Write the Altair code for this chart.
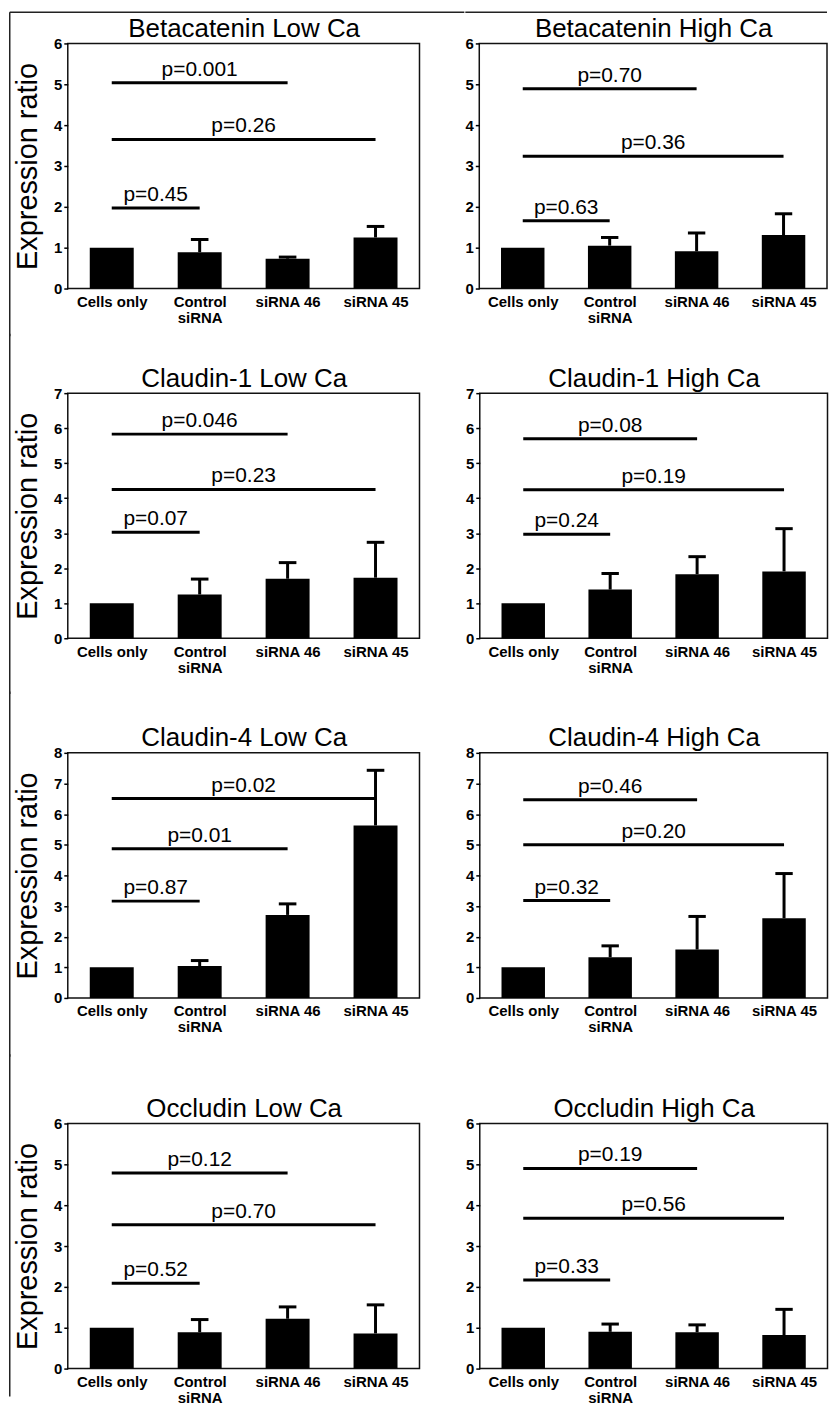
import json
import altair as alt
import pandas as pd

# ---------------- data ----------------
categories = ["Cells only", "Control\nsiRNA", "siRNA 46", "siRNA 45"]

titles = [
    "Betacatenin Low Ca", "Betacatenin High Ca",
    "Claudin-1 Low Ca", "Claudin-1 High Ca",
    "Claudin-4 Low Ca", "Claudin-4 High Ca",
    "Occludin Low Ca", "Occludin High Ca",
]
y_max = [6, 6, 7, 7, 8, 8, 6, 6]

means = [
    [1.0, 0.89, 0.73, 1.25],
    [1.0, 1.05, 0.91, 1.31],
    [1.0, 1.25, 1.70, 1.73],
    [1.0, 1.39, 1.83, 1.91],
    [1.0, 1.04, 2.71, 5.63],
    [1.0, 1.33, 1.58, 2.60],
    [1.0, 0.89, 1.22, 0.86],
    [1.0, 0.90, 0.89, 0.82],
]
errors = [
    [0.0, 0.31, 0.04, 0.27],
    [0.0, 0.20, 0.45, 0.52],
    [0.0, 0.44, 0.46, 1.01],
    [0.0, 0.46, 0.50, 1.22],
    [0.0, 0.18, 0.36, 1.80],
    [0.0, 0.37, 1.08, 1.46],
    [0.0, 0.31, 0.29, 0.70],
    [0.0, 0.19, 0.18, 0.63],
]

# every comparison is "Cells only" (index 0) against index 1, 2, 3
compare_to = [1, 2, 3]
p_labels = [
    ["p=0.45", "p=0.001", "p=0.26"],
    ["p=0.63", "p=0.70", "p=0.36"],
    ["p=0.07", "p=0.046", "p=0.23"],
    ["p=0.24", "p=0.08", "p=0.19"],
    ["p=0.87", "p=0.01", "p=0.02"],
    ["p=0.32", "p=0.46", "p=0.20"],
    ["p=0.52", "p=0.12", "p=0.70"],
    ["p=0.33", "p=0.19", "p=0.56"],
]
p_heights = [
    [1.97, 5.04, 3.65],
    [1.66, 4.89, 3.24],
    [3.03, 5.83, 4.25],
    [2.97, 5.70, 4.24],
    [3.16, 4.87, 6.51],
    [3.18, 6.47, 5.00],
    [2.09, 4.79, 3.52],
    [2.17, 4.90, 3.68],
]

# ---------------- layout / style ----------------
FONT = "Liberation Sans, Arial, sans-serif"
LABEL_FONT = "Liberation Sans Narrow, Arial Narrow, Liberation Sans, Arial, sans-serif"
W_LEFT, W_RIGHT, H = 353, 349, 246
# space above / below each row's plot (extent of the figure-border segments)
above = [31.25, 59.5, 61.5, 69.5]
below = [48, 56, 59, 28]
BORDER_X = -58.25

label_lines = [c.split("\n") for c in categories]
label_expr = f"{json.dumps(label_lines)}[datum.value]"


def panel(k, left, width, row):
    bars = pd.DataFrame({
        "idx": list(range(len(categories))),
        "mean": means[k],
        "err": errors[k],
    })
    sig = pd.DataFrame({
        "i0": [0] * len(compare_to),
        "i1": compare_to,
        "y": p_heights[k],
        "label": p_labels[k],
    })

    xs = alt.Scale(domain=[-0.5, 3.5], nice=False, zero=False)
    ys = alt.Scale(domain=[0, y_max[k]], nice=False, zero=True)
    x_axis = alt.Axis(
        values=[0, 1, 2, 3], labelExpr=label_expr, ticks=False, domain=False,
        grid=False, title=None, labelFont=LABEL_FONT, labelFontSize=15,
        labelFontWeight="bold", labelPadding=6, labelLineHeight=16,
        labelColor="black", labelAngle=0, labelBaseline="top",
        labelOverlap=False, labelFlush=False,
    )
    top_axis = alt.Axis(
        orient="top", labels=False, ticks=False, domain=False, grid=False,
        title=titles[k], titleFont=FONT, titleFontSize=26,
        titleFontWeight="normal", titleColor="black",
        titleBaseline="bottom", titleY=-2, titleAnchor="middle",
    )
    y_axis = alt.Axis(
        values=list(range(y_max[k] + 1)), format="d", grid=False, domain=False,
        tickSize=4, tickColor="black", tickWidth=1.5, labelFont=FONT,
        labelFontSize=15, labelFontWeight="bold", labelPadding=2,
        labelColor="black", labelFlush=False, labelOverlap=False,
        title="Expression ratio" if left else None, titleFont=FONT,
        titleFontSize=29, titleFontWeight="normal", titlePadding=11.5,
        titleColor="black",
    )

    def X(f, axis=None):
        return alt.X(f, scale=xs, axis=axis)

    def Y(f):
        return alt.Y(f, scale=ys, axis=y_axis)

    base = alt.Chart(bars)
    bar = base.transform_calculate(
        x0="datum.idx - 0.25", x1="datum.idx + 0.25"
    ).mark_bar(color="black").encode(
        x=X("x0:Q", x_axis), x2="x1:Q", y=Y("mean:Q"), y2=alt.datum(0))

    err_base = base.transform_filter("datum.err > 0").transform_calculate(
        top="datum.mean + datum.err",
        c0="datum.idx - 0.1", c1="datum.idx + 0.1",
    )
    err_line = err_base.mark_rule(color="black", strokeWidth=3).encode(
        x=X("idx:Q"), y=Y("mean:Q"), y2="top:Q")
    cap = err_base.mark_rule(color="black", strokeWidth=3).encode(
        x=X("c0:Q"), x2="c1:Q", y=Y("top:Q"))

    sbase = alt.Chart(sig)
    sig_line = sbase.mark_rule(color="black", strokeWidth=3).encode(
        x=X("i0:Q"), x2="i1:Q", y=Y("y:Q"))
    sig_text = sbase.transform_calculate(
        mid="(datum.i0 + datum.i1) / 2"
    ).mark_text(font=FONT, fontSize=21, baseline="alphabetic", dy=-7,
                color="black").encode(x=X("mid:Q"), y=Y("y:Q"), text="label:N")

    one = alt.Chart(pd.DataFrame({"k": [0]}))
    # carries the panel title as a top axis title
    title_layer = one.mark_rule(opacity=0, strokeOpacity=0).encode(
        x=X("k:Q", top_axis))

    layers = [bar, err_line, cap, sig_line, sig_text, title_layer]
    a, b = above[row], below[row]
    if left:
        layers.append(one.mark_rule(color="#222", strokeWidth=1.5).encode(
            x=alt.value(BORDER_X), y=alt.value(-a), y2=alt.value(H + b)))
        if row == 0:
            layers.append(one.mark_rule(color="#222", strokeWidth=1.5).encode(
                x=alt.value(BORDER_X), x2=alt.value(width + 45), y=alt.value(-a)))
    else:
        layers.append(one.mark_rule(strokeOpacity=0, opacity=0).encode(
            x=alt.value(width / 2), y=alt.value(-a), y2=alt.value(H + b)))
        if row == 0:
            layers.append(one.mark_rule(color="#222", strokeWidth=1.5).encode(
                x=alt.value(-14), x2=alt.value(width), y=alt.value(-a)))

    return alt.layer(*layers).resolve_axis(x="independent").properties(
        width=width, height=H)


rows = []
for r in range(4):
    L = panel(2 * r, True, W_LEFT, r)
    R = panel(2 * r + 1, False, W_RIGHT, r)
    rows.append(alt.hconcat(L, R, spacing=-3 if r == 0 else 43.5))

chart = alt.vconcat(*rows, spacing=-6).properties(
    padding=0, background="white"
).configure(font=FONT).configure_view(stroke="#111", strokeWidth=1.5)

chart.save("out.html", embed_options={"renderer": "svg", "actions": False})
